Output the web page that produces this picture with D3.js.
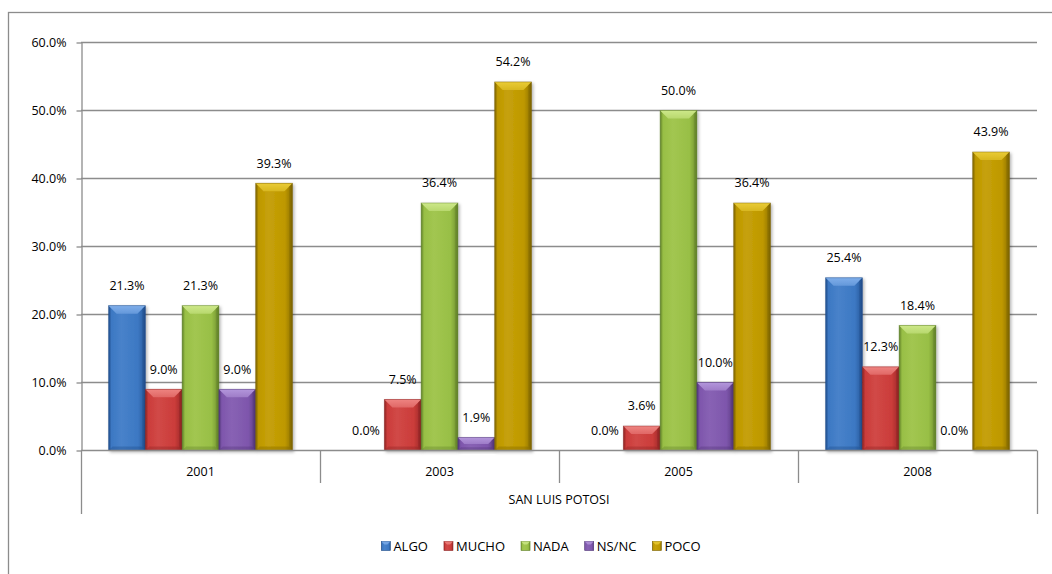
<!DOCTYPE html>
<html>
<head>
<meta charset="utf-8">
<script src="https://cdn.jsdelivr.net/npm/d3@7"></script>
<style>
  html, body { margin: 0; padding: 0; background: #fff; }
  svg { display: block; }
  text { font-family: "Open Sans", "Liberation Sans", sans-serif; fill: #000; }
</style>
</head>
<body>
<svg id="chart" width="1052" height="574"></svg>
<script>
// ---- data ----
const years = ["2001", "2003", "2005", "2008"];
const series = ["ALGO", "MUCHO", "NADA", "NS/NC", "POCO"];
const algo  = [0.213, 0.000, 0.000, 0.254];
const mucho = [0.090, 0.075, 0.036, 0.123];
const nada  = [0.213, 0.364, 0.500, 0.184];
const nsnc  = [0.090, 0.019, 0.100, 0.000];
const poco  = [0.393, 0.542, 0.364, 0.439];
const yTicks = [0, 0.1, 0.2, 0.3, 0.4, 0.5, 0.6];
const groupLabel = "SAN LUIS POTOSI";

const values = [algo, mucho, nada, nsnc, poco];
const palette = {
  "ALGO":  {base: "#3C78C3", light: "#7FAEEA", dark: "#1E4B88"},
  "MUCHO": {base: "#CB3C3A", light: "#EE8481", dark: "#8A2322"},
  "NADA":  {base: "#98BF45", light: "#CDE889", dark: "#5F7F28"},
  "NS/NC": {base: "#7E56AC", light: "#B396DB", dark: "#4F3476"},
  "POCO":  {base: "#BE9800", light: "#EACC36", dark: "#7A6100"}
};
const FS = 12.5;

const svg = d3.select("#chart");
const defs = svg.append("defs");

// outer chart border
svg.append("rect").attr("x", 8.5).attr("y", 12.5).attr("width", 1100).attr("height", 600)
  .attr("fill", "none").attr("stroke", "#8C8C8C").attr("stroke-width", 1.3);

const left = 81, right = 1037;
const x0 = d3.scaleBand().domain(years).range([left, right]).paddingInner(0).paddingOuter(0);
const x1 = d3.scaleBand().domain(series).range([0, x0.bandwidth()]).paddingInner(0).paddingOuter(0.75);
const y = d3.scaleLinear().domain([0, 0.6]).range([450.5, 42.5]);

const gridColor = "#8C8C8C";

// gridlines
svg.append("g").selectAll("line").data(yTicks.slice(1)).join("line")
  .attr("x1", left).attr("x2", right)
  .attr("y1", d => y(d)).attr("y2", d => y(d))
  .attr("stroke", gridColor).attr("stroke-width", 1.3);

// y axis
const yAxis = d3.axisLeft(y).tickValues(yTicks).tickFormat(d3.format(".1%"))
  .tickSizeInner(5).tickSizeOuter(0).tickPadding(10);
const gy = svg.append("g").attr("transform", `translate(${left + 0.5},0)`).call(yAxis);
gy.select(".domain").attr("stroke", gridColor).attr("stroke-width", 1.3);
gy.selectAll(".tick line").attr("stroke", gridColor).attr("stroke-width", 1.3);
gy.selectAll(".tick text").attr("font-size", FS).attr("font-family", "Open Sans, sans-serif").attr("fill", "#000");

// gradients per series
series.forEach((s, i) => {
  const c = palette[s];
  const g = defs.append("linearGradient").attr("id", "grad" + i)
    .attr("x1", "0%").attr("x2", "100%").attr("y1", "0%").attr("y2", "0%");
  g.append("stop").attr("offset", "0%").attr("stop-color", c.dark);
  g.append("stop").attr("offset", "8%").attr("stop-color", c.base);
  g.append("stop").attr("offset", "35%").attr("stop-color", d3.interpolateRgb(c.base, c.light)(0.18));
  g.append("stop").attr("offset", "80%").attr("stop-color", c.base);
  g.append("stop").attr("offset", "94%").attr("stop-color", d3.interpolateRgb(c.base, c.dark)(0.5));
  g.append("stop").attr("offset", "100%").attr("stop-color", c.dark);
  const gt = defs.append("linearGradient").attr("id", "top" + i)
    .attr("x1", "0%").attr("x2", "0%").attr("y1", "0%").attr("y2", "100%");
  gt.append("stop").attr("offset", "0%").attr("stop-color", c.light);
  gt.append("stop").attr("offset", "100%").attr("stop-color", d3.interpolateRgb(c.light, c.base)(0.4));
});

const shadow = defs.append("filter").attr("id", "shadow")
  .attr("x", "-20%").attr("y", "-10%").attr("width", "150%").attr("height", "130%");
shadow.append("feDropShadow").attr("dx", 1.5).attr("dy", 1.5).attr("stdDeviation", 1.5)
  .attr("flood-color", "#000").attr("flood-opacity", 0.3);

// bars
const rows = [];
years.forEach((yr, gi) => {
  series.forEach((s, si) => rows.push({year: yr, s, si, v: values[si][gi]}));
});

const barsG = svg.append("g");
rows.forEach(d => {
  const c = palette[d.s];
  const bx = x0(d.year) + x1(d.s);
  const bw = x1.bandwidth();
  const top = y(d.v), bot = y(0);
  const h = bot - top;
  if (h <= 0.5) return;
  const b = Math.min(8, h / 2);
  const g = barsG.append("g").attr("filter", "url(#shadow)");
  g.append("rect").attr("x", bx).attr("y", top).attr("width", bw).attr("height", h)
    .attr("fill", `url(#grad${d.si})`);
  // top bevel
  g.append("polygon")
    .attr("points", [[bx, top], [bx + bw, top], [bx + bw - b, top + b], [bx + b, top + b]].map(p => p.join(",")).join(" "))
    .attr("fill", `url(#top${d.si})`);
  // bottom bevel
  g.append("polygon")
    .attr("points", [[bx, bot], [bx + bw, bot], [bx + bw - b * 0.5, bot - b * 0.5], [bx + b * 0.5, bot - b * 0.5]].map(p => p.join(",")).join(" "))
    .attr("fill", c.dark).attr("opacity", 0.35);
  // right bevel
  g.append("polygon")
    .attr("points", [[bx + bw, top], [bx + bw, bot], [bx + bw - 3, bot - 3], [bx + bw - 3, top + 3]].map(p => p.join(",")).join(" "))
    .attr("fill", c.dark).attr("opacity", 0.45);
  g.append("rect").attr("x", bx).attr("y", top).attr("width", bw).attr("height", h)
    .attr("fill", "none").attr("stroke", c.dark).attr("stroke-opacity", 0.55).attr("stroke-width", 0.8);
});

// x axis line
svg.append("line").attr("x1", left).attr("x2", right).attr("y1", y(0)).attr("y2", y(0))
  .attr("stroke", gridColor).attr("stroke-width", 1.3);

// category separators
const bounds = years.map(yr => x0(yr)).concat([right]);
svg.append("g").selectAll("line").data(bounds).join("line")
  .attr("x1", d => Math.round(d) + 0.5).attr("x2", d => Math.round(d) + 0.5)
  .attr("y1", y(0)).attr("y2", (d, i) => (i === 0 || i === bounds.length - 1) ? 514 : 483)
  .attr("stroke", gridColor).attr("stroke-width", 1.3);

// category labels
svg.append("g").selectAll("text").data(years).join("text")
  .attr("x", d => x0(d) + x0.bandwidth() / 2).attr("y", 472).attr("dy", "0.35em")
  .attr("text-anchor", "middle").attr("font-size", FS).text(d => d);

svg.append("text").attr("x", (left + right) / 2).attr("y", 500).attr("dy", "0.35em")
  .attr("text-anchor", "middle").attr("font-size", FS).text(groupLabel);

// value labels
const fmt = d3.format(".1%");
svg.append("g").selectAll("text").data(rows).join("text")
  .attr("x", d => x0(d.year) + x1(d.s) + x1.bandwidth() / 2)
  .attr("y", d => y(d.v) - 20).attr("dy", "0.35em")
  .attr("text-anchor", "middle").attr("font-size", FS).text(d => fmt(d.v));

// legend
const legend = svg.append("g");
let lx = 0;
series.forEach((s, i) => {
  const it = legend.append("g");
  it.append("rect").attr("x", 0).attr("y", -4.5).attr("width", 9).attr("height", 9)
    .attr("fill", `url(#grad${i})`).attr("stroke", palette[s].dark).attr("stroke-width", 0.6);
  it.append("polygon").attr("points", "0,-4.5 9,-4.5 6,-1.5 3,-1.5").attr("fill", palette[s].light).attr("opacity", 0.8);
  const t = it.append("text").attr("x", 12).attr("y", 0).attr("dy", "0.35em").attr("font-size", FS + 0.5).text(s);
  const w = 12 + t.node().getComputedTextLength();
  it.attr("transform", `translate(${lx},0)`);
  lx += w + 16;
});
const totalW = lx - 16;
legend.attr("transform", `translate(${541 - totalW / 2},546)`);
</script>
</body>
</html>
